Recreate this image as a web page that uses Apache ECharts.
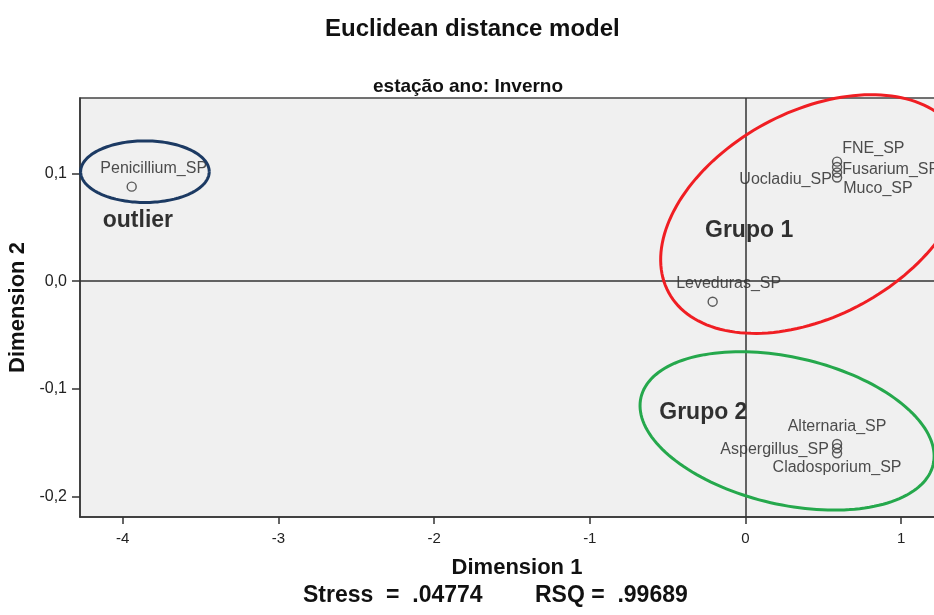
<!DOCTYPE html>
<html><head><meta charset="utf-8">
<script src="https://cdn.jsdelivr.net/npm/echarts@6/dist/echarts.min.js"></script>
<style>html,body{margin:0;padding:0;background:#fff}#c{width:934px;height:615px}</style>
</head><body><div id="c"></div>
<script>
// ---- data ----
const pointNames = ['Penicillium_SP','FNE_SP','Fusarium_SP','Uocladiu_SP','Muco_SP','Leveduras_SP','Alternaria_SP','Aspergillus_SP','Cladosporium_SP'];
const dimension1 = [-3.942, 0.588, 0.588, 0.588, 0.588, -0.211, 0.588, 0.588, 0.588];
const dimension2 = [0.0877, 0.1109, 0.1059, 0.1008, 0.0962, -0.019, -0.151, -0.155, -0.1597];
const xTicks = [-4, -3, -2, -1, 0, 1];
const yTicks = [-0.2, -0.1, 0, 0.1];
const groupNames = ['outlier', 'Grupo 1', 'Grupo 2'];
const groupX = [-4.128, -0.26, -0.554];
const groupY = [0.0558, 0.0466, -0.1218];
const ellipseX = [0.435, 0.267, -3.857];
const ellipseY = [0.0623, -0.1389, 0.1016];
const stressText = 'Stress  =  .04774';
const rsqText = 'RSQ =  .99689';

// ---- styles ----
const FONT = '"Liberation Sans", Arial, sans-serif';
const ellipseStyle = [
  {rx: 164.5, ry: 102.3, rot: 28.5, color: '#f01e23'},
  {rx: 149.9, ry: 73.6, rot: -12.9, color: '#25a84c'},
  {rx: 64.3, ry: 30.8, rot: 0, color: '#1c3a63'}
];
const labelPlacement = {
  'Penicillium_SP': {position: 'top', offset: [22, 0]},
  'FNE_SP': {position: 'right', offset: [-5, -13]},
  'Fusarium_SP': {position: 'right', offset: [-5, 3]},
  'Uocladiu_SP': {position: 'left', offset: [5, 7]},
  'Muco_SP': {position: 'right', offset: [-4, 11]},
  'Leveduras_SP': {position: 'top', offset: [16, 0]},
  'Alternaria_SP': {position: 'top', offset: [0, 1]},
  'Aspergillus_SP': {position: 'left', offset: [2, 1]},
  'Cladosporium_SP': {position: 'bottom', offset: [0, -4]}
};

const pointData = pointNames.map((n, i) => ({
  name: n,
  value: [dimension1[i], dimension2[i]],
  label: Object.assign({show: true, formatter: n}, labelPlacement[n])
}));
const groupData = groupNames.map((n, i) => ({name: n, value: [groupX[i], groupY[i]]}));
const ellipseData = ellipseX.map((x, i) => [x, ellipseY[i]]);

const chart = echarts.init(document.getElementById('c'), null, {renderer: 'canvas'});
chart.setOption({
  animation: false,
  backgroundColor: '#ffffff',
  title: [
    {text: 'Euclidean distance model', left: 320, top: 12,
     textStyle: {fontFamily: FONT, fontWeight: 'bold', fontSize: 24, color: '#111'}},
    {text: 'estação ano: Inverno', left: 368, top: 72,
     textStyle: {fontFamily: FONT, fontWeight: 'bold', fontSize: 19, color: '#111'}}
  ],
  grid: {left: 80, top: 98, width: 874, bottom: 98, show: true,
         outerBoundsMode: 'none', containLabel: false,
         backgroundColor: '#f0f0f0', borderColor: '#444', borderWidth: 1.5},
  xAxis: {
    type: 'value', min: -4.274, max: 1.339,
    axisLine: {show: true, onZero: false, lineStyle: {color: '#333', width: 1.5}},
    axisTick: {show: true, customValues: xTicks, length: 7, lineStyle: {color: '#333', width: 1.5}},
    axisLabel: {customValues: xTicks, margin: 14, fontFamily: FONT, fontSize: 15, color: '#222',
                formatter: v => String(v)},
    splitLine: {show: false},
    name: 'Dimension 1', nameLocation: 'middle', nameGap: 40,
    nameTextStyle: {fontFamily: FONT, fontWeight: 'bold', fontSize: 22, color: '#111'}
  },
  yAxis: {
    type: 'value', min: -0.21874, max: 0.16995,
    axisLine: {show: true, onZero: false, lineStyle: {color: '#333', width: 1.5}},
    axisTick: {show: true, customValues: yTicks, length: 8, lineStyle: {color: '#333', width: 1.5}},
    axisLabel: {customValues: yTicks, margin: 13, fontFamily: FONT, fontSize: 16, color: '#222',
                formatter: v => v.toFixed(1).replace('.', ',')},
    splitLine: {show: false},
    name: 'Dimension 2', nameLocation: 'middle', nameGap: 44,
    nameTextStyle: {fontFamily: FONT, fontWeight: 'bold', fontSize: 22, color: '#111'}
  },
  graphic: [
    {type: 'text', left: 303, top: 584, style: {text: stressText, font: 'bold 23px ' + FONT, fill: '#111'}},
    {type: 'text', left: 535, top: 584, style: {text: rsqText, font: 'bold 23px ' + FONT, fill: '#111'}}
  ],
  series: [
    {
      type: 'scatter', name: 'points', data: pointData,
      symbol: 'circle', symbolSize: 9,
      itemStyle: {color: 'rgba(0,0,0,0)', borderColor: '#333', borderWidth: 1.4},
      label: {fontFamily: FONT, fontSize: 16, color: '#222'},
      emphasis: {disabled: true},
      markLine: {
        silent: true, symbol: 'none', animation: false,
        label: {show: false},
        lineStyle: {color: '#333', width: 1.5, type: 'solid'},
        data: [{xAxis: 0}, {yAxis: 0}]
      },
      z: 3
    },
    {
      type: 'scatter', name: 'groups', data: groupData,
      symbolSize: 0,
      label: {show: true, position: 'right', distance: 0, formatter: p => p.name,
              fontFamily: FONT, fontWeight: 'bold', fontSize: 23, color: '#000'},
      emphasis: {disabled: true},
      z: 4
    },
    {
      type: 'custom', name: 'ellipses', data: ellipseData, clip: false, silent: true,
      renderItem: function (params, api) {
        const c = api.coord([api.value(0), api.value(1)]);
        const s = ellipseStyle[params.dataIndex];
        const th = s.rot * Math.PI / 180;
        const pts = [];
        const N = 160;
        for (let k = 0; k <= N; k++) {
          const t = k / N * 2 * Math.PI;
          const ex = s.rx * Math.cos(t), ey = s.ry * Math.sin(t);
          pts.push([c[0] + ex * Math.cos(th) + ey * Math.sin(th),
                    c[1] - ex * Math.sin(th) + ey * Math.cos(th)]);
        }
        return {type: 'polyline', shape: {points: pts},
                style: {stroke: s.color, lineWidth: 3, fill: null}};
      },
      z: 5
    }
  ]
});
</script>
</body></html>
